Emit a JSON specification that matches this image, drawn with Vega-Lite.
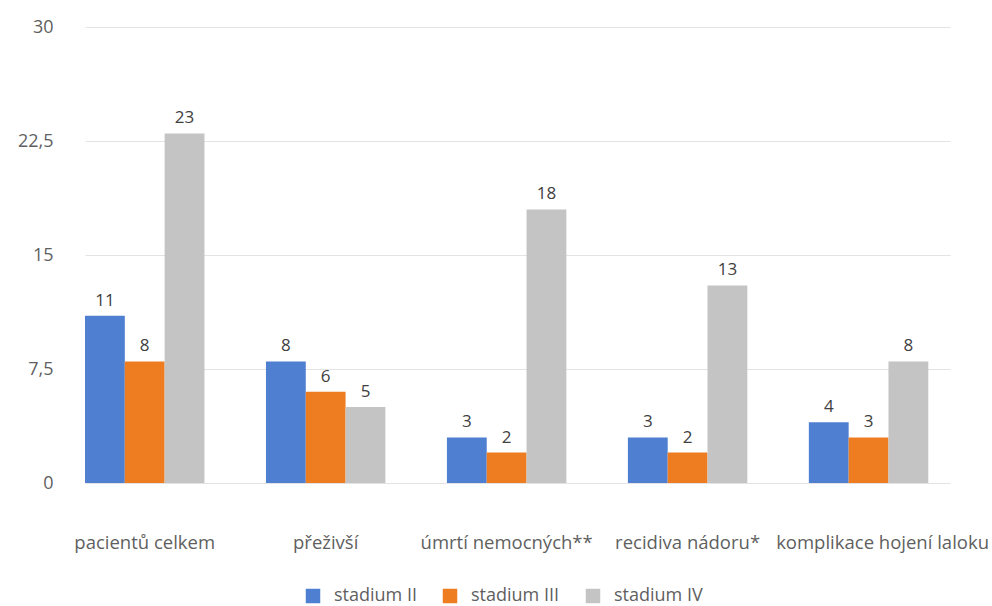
{
  "$schema": "https://vega.github.io/schema/vega-lite/v6.json",
  "width": 865,
  "height": 456,
  "autosize": {"type": "none"},
  "padding": {"left": 85, "top": 27, "right": 42, "bottom": 123},
  "background": "white",
  "config": {
    "font": "Open Sans",
    "view": {"stroke": null}
  },
  "data": {
    "values": [
      {"kategorie": "pacientů celkem", "stadium": "stadium II", "pocet": 11},
      {"kategorie": "pacientů celkem", "stadium": "stadium III", "pocet": 8},
      {"kategorie": "pacientů celkem", "stadium": "stadium IV", "pocet": 23},
      {"kategorie": "přeživší", "stadium": "stadium II", "pocet": 8},
      {"kategorie": "přeživší", "stadium": "stadium III", "pocet": 6},
      {"kategorie": "přeživší", "stadium": "stadium IV", "pocet": 5},
      {"kategorie": "úmrtí nemocných**", "stadium": "stadium II", "pocet": 3},
      {"kategorie": "úmrtí nemocných**", "stadium": "stadium III", "pocet": 2},
      {"kategorie": "úmrtí nemocných**", "stadium": "stadium IV", "pocet": 18},
      {"kategorie": "recidiva nádoru*", "stadium": "stadium II", "pocet": 3},
      {"kategorie": "recidiva nádoru*", "stadium": "stadium III", "pocet": 2},
      {"kategorie": "recidiva nádoru*", "stadium": "stadium IV", "pocet": 13},
      {"kategorie": "komplikace hojení laloku", "stadium": "stadium II", "pocet": 4},
      {"kategorie": "komplikace hojení laloku", "stadium": "stadium III", "pocet": 3},
      {"kategorie": "komplikace hojení laloku", "stadium": "stadium IV", "pocet": 8}
    ]
  },
  "encoding": {
    "x": {
      "field": "kategorie",
      "type": "nominal",
      "sort": null,
      "scale": {"paddingInner": 0.34, "paddingOuter": 0.06, "align": 0},
      "axis": {
        "title": null,
        "labelAngle": 0,
        "domain": false,
        "ticks": false,
        "labelPadding": 50,
        "labelFontSize": 18.5,
        "labelLimit": 400,
        "labelColor": "#5f5f5f",
        "labelOffset": {
          "condition": {"test": "datum.value == 'komplikace hojení laloku'", "value": 14},
          "value": 0
        }
      }
    },
    "xOffset": {"field": "stadium", "type": "nominal", "sort": null},
    "y": {
      "field": "pocet",
      "type": "quantitative",
      "scale": {"domain": [0, 30]},
      "axis": {
        "title": null,
        "values": [0, 7.5, 15, 22.5, 30],
        "labelExpr": "replace(toString(datum.value), '.', ',')",
        "domain": false,
        "ticks": false,
        "labelPadding": 32,
        "labelFontSize": 18,
        "labelColor": "#5f5f5f",
        "gridColor": "#e3e3e3"
      }
    }
  },
  "layer": [
    {
      "mark": {"type": "bar"},
      "encoding": {
        "color": {
          "field": "stadium",
          "type": "nominal",
          "sort": null,
          "scale": {"range": ["#4f7fd0", "#ee7d22", "#c4c4c4"]},
          "legend": {
            "title": null,
            "orient": "none",
            "legendX": 219,
            "legendY": 560,
            "direction": "horizontal",
            "symbolType": "square",
            "symbolSize": 210,
            "symbolStrokeWidth": 0,
            "labelFontSize": 18,
            "labelColor": "#5f5f5f",
            "columnPadding": 24,
            "labelOffset": 12
          }
        }
      }
    },
    {
      "mark": {"type": "text", "dy": -15, "fontSize": 17, "color": "#404040"},
      "encoding": {
        "text": {"field": "pocet", "type": "quantitative"}
      }
    }
  ]
}
